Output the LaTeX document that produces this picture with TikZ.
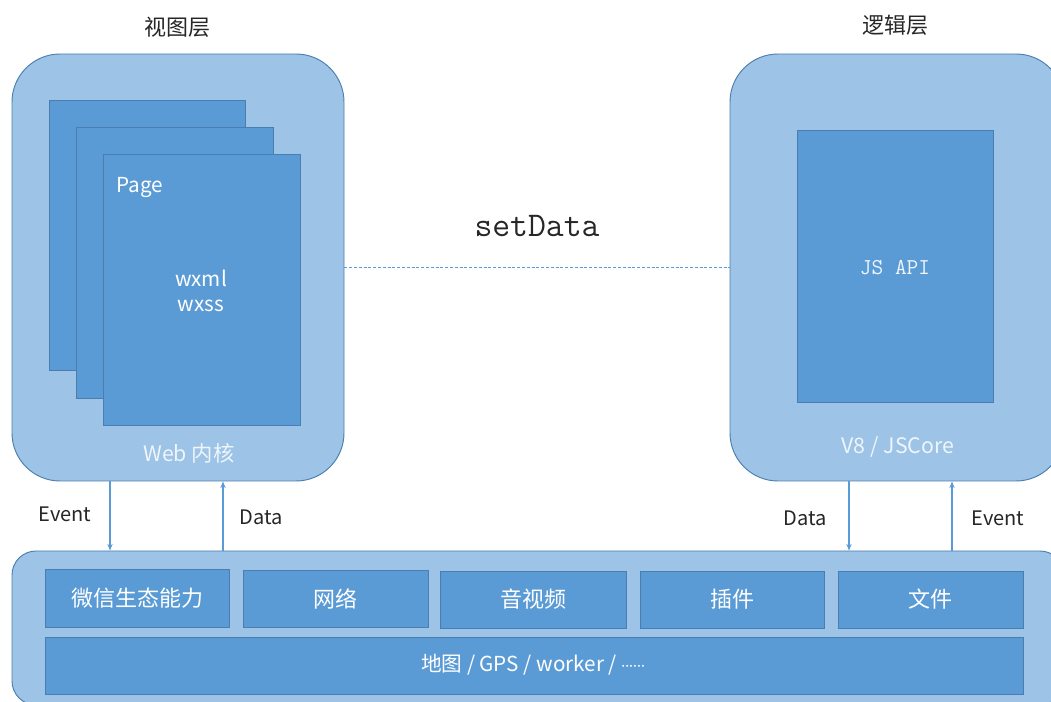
\documentclass[tikz,border=0pt]{standalone}
\usepackage{fontspec}
\setmainfont{Noto Sans CJK SC}
\newfontfamily\latinfont{Noto Sans}
\usetikzlibrary{fit,arrows.meta}
\definecolor{outerfill}{HTML}{9DC3E6}
\definecolor{edge}{HTML}{4A7EB0}
\definecolor{innerfill}{HTML}{5B9BD5}
\definecolor{ink}{HTML}{262626}
\definecolor{softwhite}{HTML}{EEF5FB}
\begin{document}
\begin{tikzpicture}[x=0.75pt,y=-0.75pt,
  outerbox/.style={draw=edge,fill=outerfill,line width=0.7pt,inner sep=0pt,rounded corners=36pt},
  basebox/.style={draw=edge,fill=outerfill,line width=0.7pt,inner sep=0pt,rounded corners=18pt},
  innerbox/.style={draw=edge,fill=innerfill,line width=0.7pt,inner sep=0pt},
  title/.style={text=ink,font=\fontsize{16.5}{20}\selectfont,inner sep=0pt},
  wlabel/.style={text=white,font=\fontsize{15.5}{18}\selectfont,inner sep=0pt},
  blabel/.style={text=white,font=\fontsize{16.5}{20}\selectfont,inner sep=0pt},
  engine/.style={text=softwhite,font=\fontsize{16}{19}\selectfont,inner sep=0pt},
  msglabel/.style={text=ink,font=\fontsize{15}{18}\selectfont,inner sep=0pt},
  flow/.style={draw=innerfill,line width=0.8pt,-{Stealth[length=5pt,width=4pt]}},
  link/.style={draw=innerfill,line width=0.75pt,dash pattern=on 2.2pt off 1.4pt}
]
\useasboundingbox (0,0) rectangle (1051,702);
\begin{scope}
\clip (0,0) rectangle (1051,702);

% view layer
\node[outerbox, fit={(12,54) (344,481)}] (view) {};
\node[innerbox, fit={(49,100) (245,370)}] (page1) {};
\node[innerbox, fit={(76,127) (273,398)}] (page2) {};
\node[innerbox, fit={(103,154) (300,425)}] (page3) {};
\node[wlabel, anchor=west] (pagelbl) at (116,188) {Page};
\node[wlabel] (wxml) at (201,278) {wxml};
\node[wlabel] (wxss) at (201,306) {wxss};
\node[engine] (webcore) at (189,453) {Web 内核};
\node[title] (viewtitle) at (177,27) {视图层};

% logic layer
\node[outerbox, fit={(730,54) (1064,481)}] (logic) {};
\node[innerbox, fit={(797,130) (993,402)}] (jsbox) {};
\node[text=softwhite,font=\fontsize{17}{20}\ttfamily,inner sep=0pt] (jsapi) at (895,268) {JS API};
\node[engine] (v8) at (898,447) {V8 / JSCore};
\node[title] (logictitle) at (895,25) {逻辑层};

% setData channel
\draw[link] (view.east) -- (logic.west);
\node[text=ink,font=\fontsize{26}{30}\ttfamily,inner sep=0pt] (setdata) at (537,226) {setData};

% native layer
\node[basebox, fit={(12,551) (1064,705)}] (base) {};
\node[innerbox, fit={(45,569) (229,627)}] (wechat) {};
\node[innerbox, fit={(243,570) (428,627)}] (net) {};
\node[innerbox, fit={(440,571) (626,628)}] (media) {};
\node[innerbox, fit={(640,571) (824,628)}] (plugin) {};
\node[innerbox, fit={(838,571) (1023,628)}] (file) {};
\node[innerbox, fit={(45,637) (1023,694)}] (misc) {};
\node[blabel] at (wechat.center) (wechatlbl) {微信生态能力};
\node[blabel] at (net.center) (netlbl) {网络};
\node[blabel] at (media.center) (medialbl) {音视频};
\node[blabel] at (plugin.center) (pluginlbl) {插件};
\node[blabel] at (file.center) (filelbl) {文件};
\node[wlabel] at (533,665) (misclbl) {地图 / GPS / worker / {\latinfont\fontsize{11}{13}\selectfont ······}};

% message arrows
\coordinate (evL) at (110,0);
\coordinate (daL) at (223,0);
\coordinate (daR) at (849,0);
\coordinate (evR) at (952,0);
\draw[flow] (view.south -| evL) -- (base.north -| evL);
\draw[flow] (base.north -| daL) -- (view.south -| daL);
\draw[flow] (logic.south -| daR) -- (base.north -| daR);
\draw[flow] (base.north -| evR) -- (logic.south -| evR);
\node[msglabel] (evLlbl) at (65,514) {Event};
\node[msglabel] (daLlbl) at (261,517) {Data};
\node[msglabel] (daRlbl) at (805,518) {Data};
\node[msglabel] (evRlbl) at (998,518) {Event};
\end{scope}
\end{tikzpicture}
\end{document}
